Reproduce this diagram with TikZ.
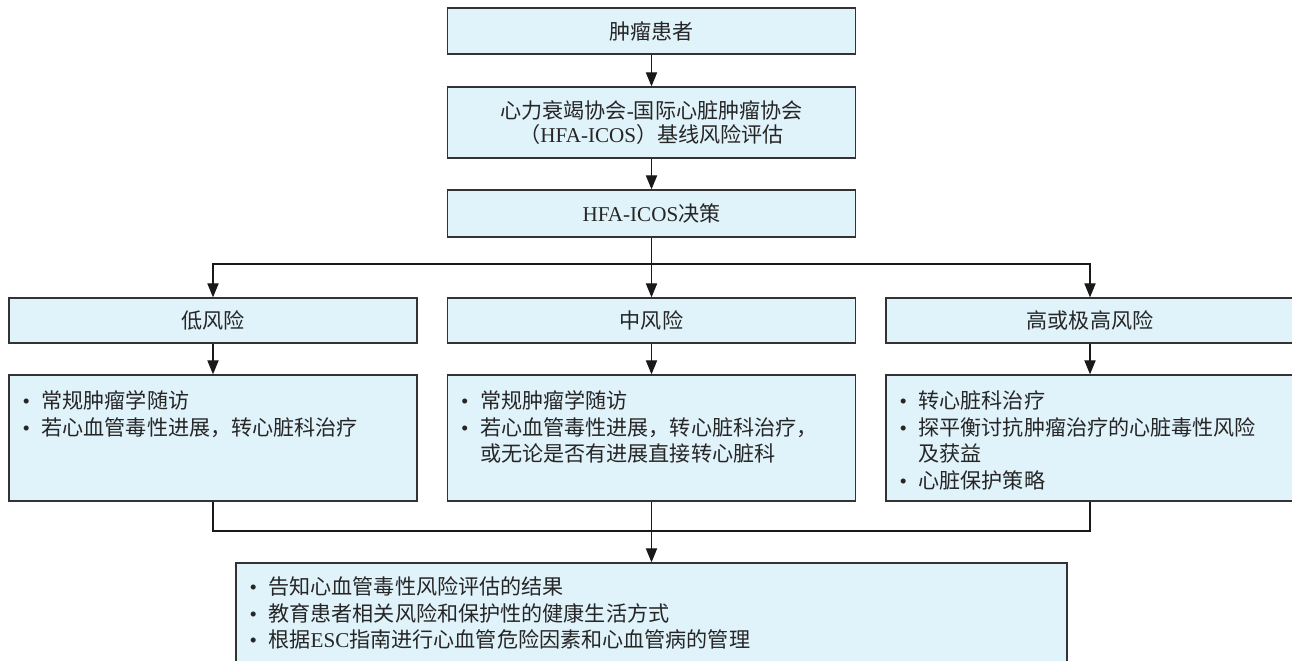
\documentclass[tikz,border=0pt]{standalone}
\usepackage{fontspec}
\setmainfont{Noto Sans CJK SC}
\newfontfamily\lat{Liberation Serif}
\usetikzlibrary{arrows.meta}
\definecolor{boxfill}{HTML}{E0F2FA}
\definecolor{boxline}{HTML}{333333}
\setlength{\parskip}{0pt}
\newcommand\bitem[1]{\noindent\hangindent=13.5pt\hangafter=1\makebox[13.5pt][l]{{\lat\textbullet}}#1\par}
\begin{document}
\begin{tikzpicture}[x=0.025cm,y=-0.025cm,
		every node/.style={font=\fontsize{15pt}{19pt}\selectfont,text=black!85},
		flowbox/.style={draw=boxline,line width=0.9pt,fill=boxfill,inner sep=0pt,minimum width=10.2cm,minimum height=1.15cm,align=center},
		listbox/.style={flowbox,minimum height=3.15cm},
		listtext/.style={anchor=north west,inner sep=0pt,text width=9.8cm,align=left},
		link/.style={line width=0.9pt,draw=black!90},
		arr/.style={link,-{Triangle[length=10pt,width=8pt]}}]
		\useasboundingbox (0,0) rectangle (1292,661);

		\node[flowbox] (patient) at ( 651.5, 31  ) {肿瘤患者};
		\node[flowbox,minimum height=1.775cm,font=\fontsize{15pt}{17pt}\selectfont] (hfa) at ( 651.5,122.5) {心力衰竭协会{\lat -}国际心脏肿瘤协会\\（{\lat HFA-ICOS}）基线风险评估};
		\node[flowbox,minimum height=1.175cm] (decide) at ( 651.5,213.5) {{\lat HFA-ICOS}决策};

		\node[flowbox,minimum height=1.125cm] (low)  at ( 213  ,320.5) {低风险};
		\node[flowbox,minimum height=1.125cm] (mid)  at ( 651.5,320.5) {中风险};
		\node[flowbox,minimum height=1.125cm] (high) at (1090  ,320.5) {高或极高风险};

		\node[listbox] (lowd)  at ( 213  ,438) {};
		\node[listbox] (midd)  at ( 651.5,438) {};
		\node[listbox] (highd) at (1090  ,438) {};
		\node[listtext] (lowt)  at ([shift={(14,16)}]lowd.north west) {\bitem{常规肿瘤学随访}\bitem{若心血管毒性进展，转心脏科治疗}};
		\node[listtext] (midt)  at ([shift={(14,16)}]midd.north west) {\bitem{常规肿瘤学随访}\bitem{若心血管毒性进展，转心脏科治疗，\newline 或无论是否有进展直接转心脏科}};
		\node[listtext] (hight) at ([shift={(14,16)}]highd.north west) {\bitem{转心脏科治疗}\bitem{探平衡讨抗肿瘤治疗的心脏毒性风险\newline 及获益}\bitem{心脏保护策略}};

		\node[flowbox,minimum width=20.775cm,minimum height=3cm] (advice) at ( 651.5,623) {};
		\node[listtext,text width=20cm] (advicet) at ([shift={(14,14)}]advice.north west) {\bitem{告知心血管毒性风险评估的结果}\bitem{教育患者相关风险和保护性的健康生活方式}\bitem{根据{\lat ESC}指南进行心血管危险因素和心血管病的管理}};

		\coordinate (split) at ( 651.5,264);
		\coordinate (join)  at ( 651.5,531);

		\draw[arr]  (patient) -- (hfa);
		\draw[arr]  (hfa) -- (decide);
		\draw[link] (decide) -- (split);
		\draw[arr]  (split) -| (low);
		\draw[arr]  (split) -- (mid);
		\draw[arr]  (split) -| (high);

		\draw[arr]  (low)  -- (lowd);
		\draw[arr]  (mid)  -- (midd);
		\draw[arr]  (high) -- (highd);

		\draw[link] (lowd)  |- (join);
		\draw[link] (highd) |- (join);
		\draw[link] (midd)  -- (join);
		\draw[arr]  (join)  -- (advice);
	\end{tikzpicture}
\end{document}
